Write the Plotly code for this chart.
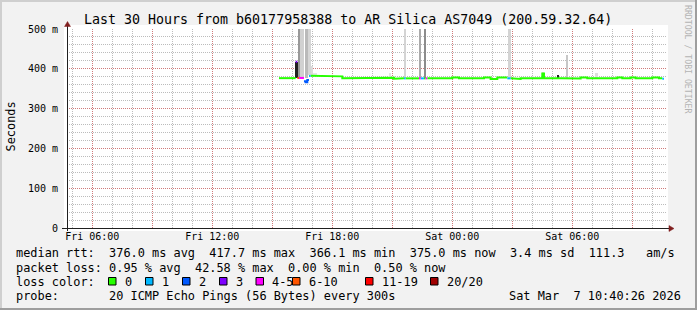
import pandas as pd
import plotly.graph_objects as go

# ---------------- data ----------------
title_text = "Last 30 Hours from b60177958388 to AR Silica AS7049 (200.59.32.64)"
y_title = "Seconds"
watermark = "RRDTOOL / TOBI OETIKER"

time_range = ["2026-03-06 04:44:06", "2026-03-07 10:44:06"]
time_ticks = ["2026-03-06 06:00", "2026-03-06 09:00", "2026-03-06 12:00", "2026-03-06 15:00",
              "2026-03-06 18:00", "2026-03-06 21:00", "2026-03-07 00:00", "2026-03-07 03:00",
              "2026-03-07 06:00", "2026-03-07 09:00"]
time_tick_labels = ["Fri 06:00", "", "Fri 12:00", "", "Fri 18:00", "", "Sat 00:00", "", "Sat 06:00", ""]
rtt_range = [0, 500]
rtt_ticks = [0, 100, 200, 300, 400, 500]
rtt_tick_labels = ["0", "100 m", "200 m", "300 m", "400 m", "500 m"]

# median rtt (ms), step segments: start time, value, lost pings (of 20)
median_start = ["2026-03-06 15:20", "2026-03-06 16:10", "2026-03-06 16:15", "2026-03-06 16:20",
                "2026-03-06 16:35", "2026-03-06 16:40", "2026-03-06 16:45", "2026-03-06 16:50",
                "2026-03-06 16:55", "2026-03-06 18:00", "2026-03-06 18:30", "2026-03-06 20:25",
                "2026-03-06 21:05", "2026-03-06 21:20", "2026-03-06 21:35", "2026-03-06 21:40",
                "2026-03-06 22:20", "2026-03-06 22:25", "2026-03-06 22:35", "2026-03-06 22:40",
                "2026-03-06 22:45", "2026-03-07 00:00", "2026-03-07 00:20", "2026-03-07 01:35",
                "2026-03-07 01:55", "2026-03-07 02:15", "2026-03-07 02:45", "2026-03-07 02:55",
                "2026-03-07 03:00", "2026-03-07 03:25", "2026-03-07 04:30", "2026-03-07 04:35",
                "2026-03-07 05:20", "2026-03-07 06:25", "2026-03-07 06:45", "2026-03-07 08:15",
                "2026-03-07 08:30", "2026-03-07 08:55", "2026-03-07 09:10", "2026-03-07 10:00",
                "2026-03-07 10:20", "2026-03-07 10:30"]
median_ms = [376.5, 417.7, 377.0, 377.0,
             369.0, 366.1, 372.0, 382.0,
             382.6, 381.0, 376.0, 377.8,
             375.3, 376.0, 376.0, 376.0,
             376.0, 376.0, 376.0, 376.0,
             376.0, 378.0, 376.0, 378.0,
             374.5, 378.0, 376.0, 376.0,
             374.5, 376.5, 388.0, 377.0,
             375.5, 378.0, 376.0, 378.0,
             376.0, 378.0, 376.0, 378.0,
             376.0, 375.0]
median_loss = [0, 3, 7, 4,
               2, 2, 2, 1,
               0, 0, 0, 0,
               0, 0, 1, 0,
               4, 1, 0, 5,
               0, 0, 0, 0,
               0, 0, 1, 0,
               0, 0, 0, 0,
               0, 0, 0, 0,
               0, 0, 0, 0,
               0, 1]
median_end = "2026-03-07 10:35"

# smoke (spread of the individual pings): time span, low/high ms, density 0..1
smoke_start = ["2026-03-06 16:08", "2026-03-06 16:16", "2026-03-06 16:23", "2026-03-06 16:38",
               "2026-03-06 16:48", "2026-03-06 16:55", "2026-03-06 17:03", "2026-03-06 20:51",
               "2026-03-06 21:38", "2026-03-06 22:23", "2026-03-06 22:38", "2026-03-07 02:48",
               "2026-03-07 04:01", "2026-03-07 04:29", "2026-03-07 04:30", "2026-03-07 05:17",
               "2026-03-07 05:41", "2026-03-07 07:11"]
smoke_end = ["2026-03-06 16:16", "2026-03-06 16:23", "2026-03-06 16:35", "2026-03-06 16:48",
             "2026-03-06 16:55", "2026-03-06 17:03", "2026-03-06 17:13", "2026-03-06 20:55",
             "2026-03-06 21:42", "2026-03-06 22:27", "2026-03-06 22:42", "2026-03-07 02:55",
             "2026-03-07 04:05", "2026-03-07 04:35", "2026-03-07 04:33", "2026-03-07 05:20",
             "2026-03-07 05:48", "2026-03-07 07:16"]
smoke_low = [376, 378, 378, 378, 384, 384, 384, 378, 378, 378, 378, 378, 378, 378, 374, 374, 378, 378]
smoke_high = [418, 520, 520, 520, 520, 407, 390, 389, 520, 520, 520, 520, 382, 393, 384, 385, 435, 390]
smoke_density = [0.87, 0.40, 0.18, 0.27, 0.16, 0.14, 0.10, 0.10, 0.17, 0.33, 0.45, 0.17,
                 0.10, 0.13, 0.87, 0.87, 0.22, 0.13]

loss_labels = ["0", "1", "2", "3", "4-5", "6-10", "11-19", "20/20"]
loss_upper = [0, 1, 2, 3, 5, 10, 19, 20]

stats_rtt = "median rtt:  376.0 ms avg  417.7 ms max  366.1 ms min  375.0 ms now  3.4 ms sd  111.3   am/s"
stats_loss = "packet loss: 0.95 % avg  42.58 % max  0.00 % min  0.50 % now"
loss_heading = "loss color:"
probe_text = "probe:       20 ICMP Echo Pings (56 Bytes) every 300s"
stamp_text = "Sat Mar  7 10:40:26 2026"

# ---------------- style ----------------
W, H = 697, 310
L, R, T, B = 67, 667, 29, 228
MONO = "DejaVu Sans Mono"
loss_colors = ["#26ff00", "#00b8ff", "#0059ff", "#7e00ff", "#ff00ff", "#ff5500", "#ff0000", "#a00000"]
BG = "#f2f2f2"


def px_x(px):
    return (px - L) / (R - L)


def px_y(py):
    return (B - py) / (B - T)


def nb(s):
    return s.replace(" ", "\u00a0")


def cat_of(loss):
    for k, up in enumerate(loss_upper):
        if loss <= up:
            return k
    return len(loss_upper) - 1


fig = go.Figure()

# smoke bars
s0 = pd.to_datetime(smoke_start)
s1 = pd.to_datetime(smoke_end)
mid = s0 + (s1 - s0) / 2
widths = [(b - a).total_seconds() * 1000 for a, b in zip(s0, s1)]
grays = []
for d in smoke_density:
    g = int(round(255 * (1 - d)))
    grays.append(f"rgb({g},{g},{g})")
fig.add_trace(go.Bar(
    x=mid, y=[h - l for l, h in zip(smoke_low, smoke_high)], base=smoke_low, width=widths,
    marker=dict(color=grays, line=dict(width=0)), hoverinfo="skip"))

# median line coloured by loss (one series per loss class, as smokeping does)
edges = pd.to_datetime(median_start + [median_end])
cats = [cat_of(v) for v in median_loss]
groups = {k: ([], []) for k in range(len(loss_upper))}
for i in range(len(median_start)):
    xs, ys = groups[cats[i]]
    if i > 0 and cats[i - 1] == cats[i]:
        xs.pop()
        ys.pop()
        xs += [edges[i]]
        ys += [median_ms[i]]
    else:
        xs += [edges[i]]
        ys += [median_ms[i]]
    xs += [edges[i + 1], None]
    ys += [median_ms[i], None]
for k, (xs, ys) in groups.items():
    if xs:
        fig.add_trace(go.Scatter(x=xs, y=ys, mode="lines",
                                 line=dict(color=loss_colors[k], width=2),
                                 hoverinfo="skip"))

shapes = []
# canvas
shapes.append(dict(type="rect", xref="paper", yref="paper", layer="below",
                   x0=px_x(64), x1=px_x(668), y0=px_y(231), y1=px_y(25),
                   fillcolor="white", line=dict(width=0)))
# frame shading
for (x0, y0, x1, y1, c) in [(0, 0, 697, 2, "#cfcfcf"), (0, 0, 2, 310, "#cfcfcf"),
                            (0, 308, 697, 310, "#9e9e9e"), (695, 0, 697, 310, "#9e9e9e")]:
    shapes.append(dict(type="rect", xref="paper", yref="paper", layer="above",
                       x0=px_x(x0), x1=px_x(x1), y0=px_y(y1), y1=px_y(y0),
                       fillcolor=c, line=dict(width=0)))
# axes
shapes.append(dict(type="line", xref="paper", yref="paper", layer="above",
                   x0=px_x(67.5), x1=px_x(67.5), y0=px_y(231), y1=px_y(26),
                   line=dict(color="#1f1f1f", width=1)))
shapes.append(dict(type="line", xref="paper", yref="paper", layer="above",
                   x0=px_x(62), x1=px_x(669), y0=px_y(228.5), y1=px_y(228.5),
                   line=dict(color="#1f1f1f", width=1)))
# arrows
shapes.append(dict(type="path", xref="paper", yref="paper", layer="above",
                   path=f"M {px_x(64.5)},{px_y(26.5)} L {px_x(70.5)},{px_y(26.5)} L {px_x(67.5)},{px_y(21.5)} Z",
                   fillcolor="#801f1f", line=dict(color="#801f1f", width=0.5)))
shapes.append(dict(type="path", xref="paper", yref="paper", layer="above",
                   path=f"M {px_x(669)},{px_y(225.5)} L {px_x(669)},{px_y(231.5)} L {px_x(674)},{px_y(228.5)} Z",
                   fillcolor="#801f1f", line=dict(color="#801f1f", width=0.5)))

annotations = []


def ann(text, px, py, size, xanchor="left", color="black", angle=0):
    annotations.append(dict(text=nb(text), x=px_x(px), y=px_y(py), xref="paper", yref="paper",
                            xanchor=xanchor, yanchor="middle", showarrow=False,
                            textangle=angle, borderpad=0,
                            font=dict(family=MONO, size=size, color=color)))


ann(title_text, 347.5, 19.4, 13.3, xanchor="center")
ann(y_title, 10.5, 127, 11.9, xanchor="center", angle=-90)
ann(watermark, 688, 59, 8.2, xanchor="center", color="#b4b4b4", angle=90)
ann(stats_rtt, 14.6, 253.2, 11.9)
ann(stats_loss, 14.6, 267.6, 11.9)
ann(loss_heading, 14.6, 281.6, 11.9)
ann(probe_text, 14.6, 295.9, 11.9)
ann(stamp_text, 681.5, 295.9, 11.9, xanchor="right")

box_left = [108.5, 145.5, 182.5, 219.5, 256, 292.5, 365.5, 430.5]
for k, lab in enumerate(loss_labels):
    bx = box_left[k]
    shapes.append(dict(type="rect", xref="paper", yref="paper", layer="above",
                       x0=px_x(bx), x1=px_x(bx + 7.5), y0=px_y(285), y1=px_y(277.5),
                       fillcolor=loss_colors[k], line=dict(color="black", width=1)))
    ann(lab, bx + 15, 281.6, 11.9)

grid_major = "rgba(222,79,79,0.6)"
grid_minor = "rgba(143,143,143,0.6)"

fig.update_layout(
    width=W, height=H, margin=dict(l=L, r=W - R, t=T, b=H - B),
    paper_bgcolor=BG, plot_bgcolor="white", showlegend=False, hovermode=False,
    bargap=0, shapes=shapes, annotations=annotations,
    xaxis=dict(type="date", range=time_range, tickmode="array", tickvals=time_ticks,
               ticktext=time_tick_labels, showgrid=True, gridcolor=grid_major, gridwidth=1,
               griddash="1px,1px", zeroline=False, showline=False, ticks="",
               tickfont=dict(family=MONO, size=10, color="black"), ticklabelstandoff=1,
               minor=dict(tickmode="linear", tick0="2026-03-06 05:00", dtick=3600000,
                          showgrid=True, gridcolor=grid_minor, gridwidth=1, griddash="1px,1px"),
               fixedrange=True),
    yaxis=dict(range=rtt_range, tickmode="array", tickvals=rtt_ticks, ticktext=rtt_tick_labels,
               showgrid=True, gridcolor=grid_major, gridwidth=1, griddash="1px,1px",
               zeroline=False, showline=False, ticks="",
               tickfont=dict(family=MONO, size=10, color="black"), ticklabelstandoff=8,
               minor=dict(tickmode="linear", tick0=0, dtick=20, showgrid=True,
                          gridcolor=grid_minor, gridwidth=1, griddash="1px,1px"),
               fixedrange=True),
)

fig.write_html("out.html")
